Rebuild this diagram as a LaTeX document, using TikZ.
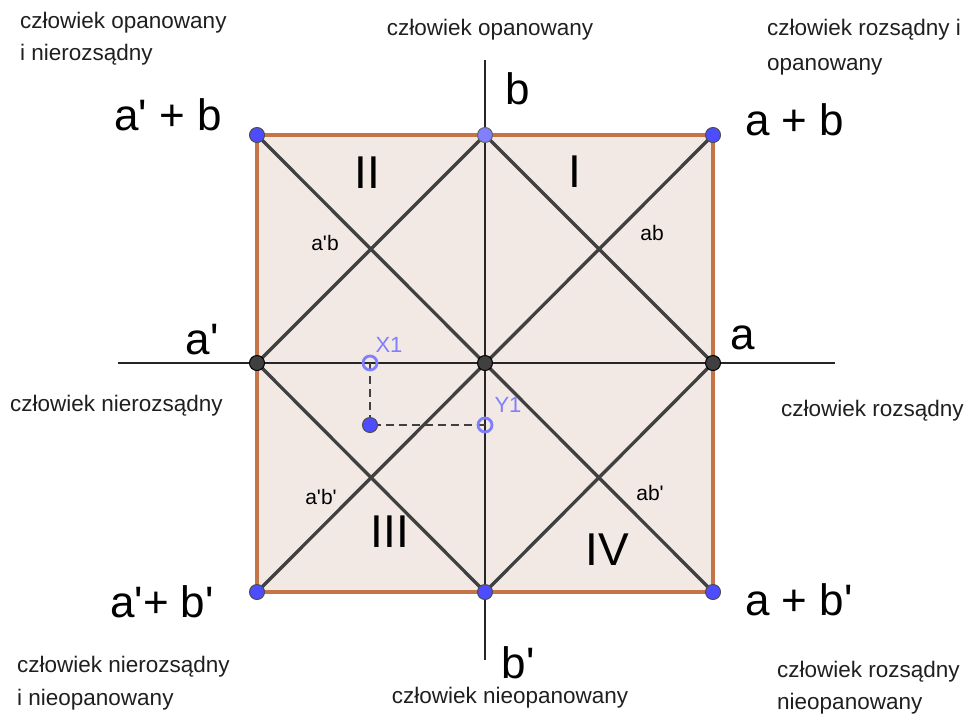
\documentclass[tikz,border=0pt]{standalone}
\usepackage{fontspec}
\setmainfont{Liberation Sans}
\newcommand\ap{\textquotesingle}
\begin{document}
\begin{tikzpicture}[x=1pt,y=-1pt,
  desc/.style={inner sep=0pt,anchor=base west,font=\fontsize{22.5}{27}\selectfont,text=black!88},
  big/.style={inner sep=0pt,anchor=base west,font=\fontsize{44}{50}\selectfont},
  roman/.style={inner sep=0pt,anchor=base,font=\fontsize{46}{50}\selectfont},
  small/.style={inner sep=0pt,anchor=base,font=\fontsize{21}{25}\selectfont},
  ptlab/.style={inner sep=0pt,anchor=base,font=\fontsize{22}{26}\selectfont,text=ptblue},
  dline/.style={draw=black!75,line width=3.3pt},
  axis/.style={draw=black!85,line width=1.4pt},
  bluept/.style={circle,fill=dotblue,draw=black!70,line width=1pt,minimum size=15pt,inner sep=0pt},
  lbluept/.style={circle,fill=ptblue,draw=black!60,line width=1pt,minimum size=15pt,inner sep=0pt},
  blackpt/.style={circle,fill=black!75,draw=black,line width=1pt,minimum size=15pt,inner sep=0pt},
  hollow/.style={circle,draw=ptblue,line width=2.8pt,minimum size=14pt,inner sep=0pt},
]
\definecolor{dotblue}{RGB}{77,77,255}
\definecolor{ptblue}{RGB}{128,128,255}
\definecolor{sqfill}{RGB}{242,233,229}
\definecolor{sqedge}{RGB}{196,116,70}
\useasboundingbox (0,0) rectangle (969,713);
% square
\fill[sqfill] (257,135) rectangle (713,592);
% axes
\coordinate (axL) at (118,363);
\coordinate (axR) at (835,363);
\coordinate (axT) at (485,60);
\coordinate (axB) at (485,660);
\draw[axis] (axL) -- (axR);
\draw[axis] (axT) -- (axB);
% key points
\coordinate (TL) at (257,135);
\coordinate (TR) at (713,135);
\coordinate (BL) at (257,592);
\coordinate (BR) at (713,592);
\coordinate (T) at (485,135);
\coordinate (B) at (485,592);
\coordinate (L) at (257,363);
\coordinate (R) at (713,363);
\coordinate (C) at (485,363);
% diagonals and diamond
\draw[dline] (TL) -- (BR);
\draw[dline] (TR) -- (BL);
\draw[dline,line join=round] (T) -- (R) -- (B) -- (L) -- cycle;
% square border
\draw[sqedge,line width=3.2pt] (TL) rectangle (BR);
% dashed projection
\coordinate (P) at (370,425);
\coordinate (PX) at (370,363);
\coordinate (PY) at (485,425);
\draw[black!75,line width=2.6pt,dash pattern=on 8pt off 5pt] (PX) -- (P) -- (PY);
% dots
\node[bluept] (nTL) at (TL) {};
\node[bluept] (nTR) at (TR) {};
\node[bluept] (nBL) at (BL) {};
\node[bluept] (nBR) at (BR) {};
\node[lbluept] (nT) at (T) {};
\node[bluept] (nB) at (B) {};
\node[blackpt] (nL) at (L) {};
\node[blackpt] (nR) at (R) {};
\node[blackpt] (nC) at (C) {};
\node[hollow] (X1) at (PX) {};
\node[hollow] (Y1) at (PY) {};
\node[bluept] (nP) at (P) {};
\node[ptlab] (lX1) at (389,352) {X1};
\node[ptlab] (lY1) at (508,412) {Y1};
% big labels
\node[big] (lTL) at (114,130) {a\ap{} + b};
\node[big] (lTR) at (745,135) {a + b};
\node[big,anchor=base] (lb) at (518,104) {b};
\node[big,anchor=base] (la1) at (202,354) {a\ap};
\node[big,anchor=base] (la) at (743,349) {a};
\node[big] (lBL) at (110,617) {a\ap+ b\ap};
\node[big] (lBR) at (745,615) {a + b\ap};
\node[big,anchor=base] (lb1) at (518,678) {b\ap};
% roman
\node[roman] (r2) at (367,188) {II};
\node[roman] (r1) at (575,187) {I};
\node[roman] (r3) at (390,547) {III};
\node[roman] (r4) at (607,565) {IV};
% small labels
\node[small] (s1) at (325,250) {a\ap b};
\node[small] (s2) at (652,240) {ab};
\node[small] (s3) at (321,504) {a\ap b\ap};
\node[small] (s4) at (650,500) {ab\ap};
% descriptions
\node[desc] (d1) at (20,28) {człowiek opanowany};
\node[desc] (d1b) at (20,60) {i nierozsądny};
\node[desc,anchor=base] (d2) at (490,35) {człowiek opanowany};
\node[desc] (d3) at (767,35) {człowiek rozsądny i};
\node[desc] (d3b) at (767,70) {opanowany};
\node[desc] (d4) at (10,411) {człowiek nierozsądny};
\node[desc] (d5) at (781,416) {człowiek rozsądny};
\node[desc] (d6) at (17,672) {człowiek nierozsądny};
\node[desc] (d6b) at (17,705) {i nieopanowany};
\node[desc,anchor=base] (d7) at (510,703) {człowiek nieopanowany};
\node[desc] (d8) at (777,677) {człowiek rozsądny};
\node[desc] (d8b) at (777,709) {nieopanowany};
\end{tikzpicture}
\end{document}
